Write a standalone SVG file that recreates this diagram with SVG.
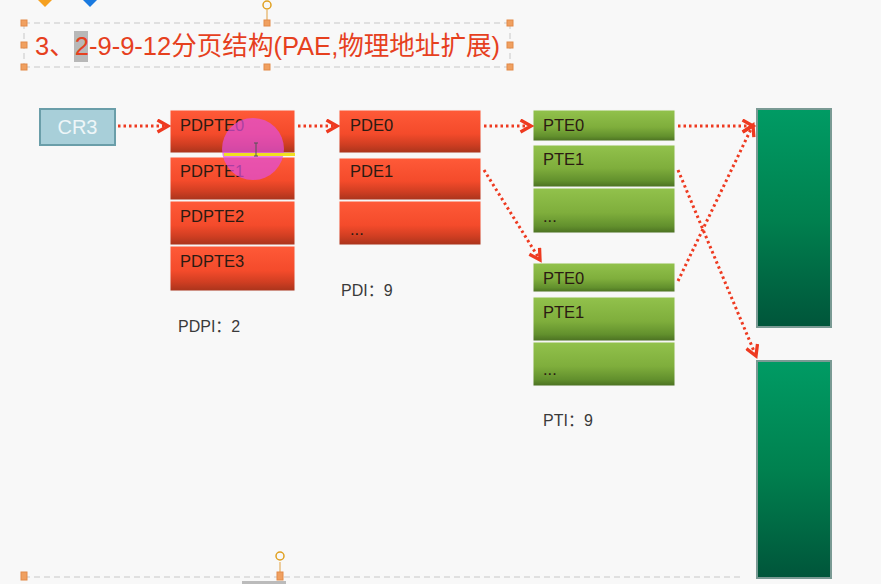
<svg xmlns="http://www.w3.org/2000/svg" width="881" height="584" viewBox="0 0 881 584">
<defs>
<linearGradient id="gRed" x1="0" y1="0" x2="0" y2="1">
<stop offset="0" stop-color="#ff5a38"/>
<stop offset="0.55" stop-color="#f44b2b"/>
<stop offset="0.8" stop-color="#d03e22"/>
<stop offset="1" stop-color="#a8341c"/>
</linearGradient>
<linearGradient id="gGreen" x1="0" y1="0" x2="0" y2="1">
<stop offset="0" stop-color="#92c24c"/>
<stop offset="0.55" stop-color="#7fae3c"/>
<stop offset="0.85" stop-color="#62902d"/>
<stop offset="1" stop-color="#4b7022"/>
</linearGradient>
<linearGradient id="gPage" x1="0" y1="0" x2="0" y2="1">
<stop offset="0" stop-color="#009b64"/>
<stop offset="0.5" stop-color="#00814f"/>
<stop offset="1" stop-color="#00553a"/>
</linearGradient>
<marker id="arr" viewBox="0 0 10 10" refX="8" refY="5" markerWidth="5" markerHeight="5" orient="auto" markerUnits="strokeWidth">
<path d="M1,1 L8,5 L1,9" fill="none" stroke="#ee3a20" stroke-width="2.2"/>
</marker>
<style>
.cell-r{fill:url(#gRed);stroke:#f5f5f5;stroke-width:1}
.cell-g{fill:url(#gGreen);stroke:#f5f5f5;stroke-width:1}
.page{fill:url(#gPage);stroke:#7a9a94;stroke-width:2}
.lbl{font-family:"Liberation Sans",Arial,sans-serif;font-size:16.5px;fill:#2b1a12}
.cap{font-family:"Liberation Sans","Noto Sans CJK SC",sans-serif;font-size:16px;fill:#3a3a3a}
.conn{fill:none;stroke:#ee3a20;stroke-width:3;stroke-dasharray:2.5 3;marker-end:url(#arr)}
.h{fill:#f0a060;stroke:#e28a48;stroke-width:1}
.sel{fill:none;stroke:#c8c8c8;stroke-width:1;stroke-dasharray:6 4}
</style>
</defs>
<rect width="881" height="584" fill="#f8f8f8"/>

<g id="decor">
<path d="M38,0 L45,7 L52,0 Z" fill="#f5a020"/>
<path d="M83,0 L90,7 L97,0 Z" fill="#1a7ae0"/>
<line class="sel" x1="24" y1="23" x2="510" y2="23"/>
<line class="sel" x1="24" y1="67" x2="510" y2="67"/>
<line class="sel" x1="24" y1="23" x2="24" y2="67"/>
<line class="sel" x1="510" y1="23" x2="510" y2="67"/>
<line x1="267" y1="10" x2="267" y2="23" stroke="#e0a040" stroke-width="1"/>
<circle cx="267" cy="5" r="4" fill="none" stroke="#e0a020" stroke-width="1.5"/>
<rect class="h" x="21" y="20" width="6" height="6"/>
<rect class="h" x="264" y="20" width="6" height="6"/>
<rect class="h" x="507" y="20" width="6" height="6"/>
<rect class="h" x="21" y="42" width="6" height="6"/>
<rect class="h" x="507" y="42" width="6" height="6"/>
<rect class="h" x="21" y="64" width="6" height="6"/>
<rect class="h" x="264" y="64" width="6" height="6"/>
<rect class="h" x="507" y="64" width="6" height="6"/>
<line class="sel" x1="24" y1="577" x2="740" y2="577"/>
<line x1="280" y1="562" x2="280" y2="574" stroke="#e0a040" stroke-width="1"/>
<circle cx="280" cy="556" r="4" fill="none" stroke="#e0a020" stroke-width="1.5"/>
<rect class="h" x="21" y="572" width="6" height="8"/>
<rect class="h" x="277" y="572" width="6" height="8"/>
<rect x="242" y="581" width="44" height="3" fill="#bbbbbb"/>
</g>

<g id="title">
<rect x="74" y="31" width="14" height="31" fill="#b8b8b8"/>
<text x="35" y="55" font-family="'Liberation Sans','Noto Sans CJK SC',sans-serif" font-size="26" fill="#e6401e" textLength="465" lengthAdjust="spacingAndGlyphs">3、2-9-9-12分页结构(PAE,物理地址扩展)</text>
</g>

<g id="cr3">
<rect x="40" y="109" width="75" height="36" fill="#a8cfd9" stroke="#6a9ea9" stroke-width="2"/>
<text x="77.5" y="134" text-anchor="middle" font-family="'Liberation Sans',Arial,sans-serif" font-size="20" fill="#eef6f8">CR3</text>
</g>

<g id="pdpt">
<rect class="cell-r" x="170" y="110" width="125" height="43"/>
<rect class="cell-r" x="170" y="157" width="125" height="43"/>
<rect class="cell-r" x="170" y="201" width="125" height="44"/>
<rect class="cell-r" x="170" y="246" width="125" height="45"/>
<text class="lbl" x="180" y="131">PDPTE0</text>
<text class="lbl" x="180" y="177">PDPTE1</text>
<text class="lbl" x="180" y="222">PDPTE2</text>
<text class="lbl" x="180" y="267">PDPTE3</text>
<text class="cap" x="178" y="332">PDPI：2</text>
</g>

<g id="cursor">
<circle cx="253" cy="149" r="31" fill="#e050e0" fill-opacity="0.7"/>
<rect x="224" y="153" width="71" height="3" fill="#f0e020"/>
<path d="M256,143 L256,156 M254,143 L258,143 M254,156 L258,156" stroke="#555" stroke-width="1"/>
</g>

<g id="pd">
<rect class="cell-r" x="339" y="110" width="142" height="43"/>
<rect class="cell-r" x="339" y="158" width="142" height="42"/>
<rect class="cell-r" x="339" y="201" width="142" height="44"/>
<text class="lbl" x="350" y="131">PDE0</text>
<text class="lbl" x="350" y="177">PDE1</text>
<text class="lbl" x="350" y="235">...</text>
<text class="cap" x="341" y="296">PDI：9</text>
</g>

<g id="pt1">
<rect class="cell-g" x="533" y="110" width="142" height="31"/>
<rect class="cell-g" x="533" y="145" width="142" height="42"/>
<rect class="cell-g" x="533" y="188" width="142" height="45"/>
<text class="lbl" x="543" y="131">PTE0</text>
<text class="lbl" x="543" y="165">PTE1</text>
<text class="lbl" x="543" y="222">...</text>
</g>

<g id="pt2">
<rect class="cell-g" x="533" y="263" width="142" height="29"/>
<rect class="cell-g" x="533" y="297" width="142" height="44"/>
<rect class="cell-g" x="533" y="342" width="142" height="44"/>
<text class="lbl" x="543" y="284">PTE0</text>
<text class="lbl" x="543" y="318">PTE1</text>
<text class="lbl" x="543" y="375">...</text>
<text class="cap" x="543" y="426">PTI：9</text>
</g>

<g id="page1">
<rect class="page" x="757" y="109" width="74" height="218"/>
</g>
<g id="page2">
<rect class="page" x="757" y="361" width="74" height="217"/>
</g>

<g id="connectors">
<line class="conn" x1="118" y1="126" x2="168" y2="126"/>
<line class="conn" x1="298" y1="126" x2="337" y2="126"/>
<line class="conn" x1="484" y1="126" x2="531" y2="126"/>
<line class="conn" x1="484" y1="170" x2="540" y2="260"/>
<line class="conn" x1="678" y1="126" x2="753" y2="126"/>
<line class="conn" x1="678" y1="281" x2="753" y2="125"/>
<line class="conn" x1="678" y1="170" x2="756" y2="356"/>
</g>
</svg>
